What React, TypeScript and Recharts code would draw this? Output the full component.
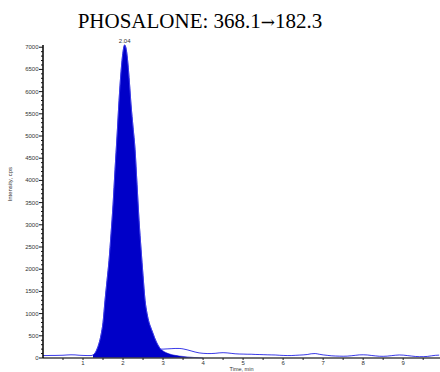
import { ComposedChart, Area, Line, XAxis, YAxis } from "recharts";

// retention time (min) and detector response (cps)
const times = [
  0.0, 0.1, 0.2, 0.3, 0.4, 0.5, 0.6, 0.7, 0.8, 0.9, 1.0, 1.1,
  1.2, 1.25, 1.3, 1.35, 1.4, 1.45, 1.5, 1.55, 1.6, 1.65, 1.7, 1.75, 1.8, 1.85, 1.9, 1.95,
  2.0, 2.04, 2.08, 2.12, 2.16, 2.2, 2.25, 2.3, 2.35, 2.4, 2.45, 2.5, 2.55, 2.6, 2.65,
  2.7, 2.75, 2.8, 2.85, 2.9, 2.95, 3.0,
  3.1, 3.2, 3.3, 3.4, 3.5, 3.6, 3.7, 3.8, 3.9, 4.0,
  4.1, 4.2, 4.3, 4.4, 4.5, 4.6, 4.7, 4.8, 4.9, 5.0,
  5.1, 5.2, 5.3, 5.4, 5.5, 5.6, 5.7, 5.8, 5.9, 6.0,
  6.1, 6.2, 6.3, 6.4, 6.5, 6.6, 6.7, 6.8, 6.9, 7.0,
  7.1, 7.2, 7.3, 7.4, 7.5, 7.6, 7.7, 7.8, 7.9, 8.0,
  8.1, 8.2, 8.3, 8.4, 8.5, 8.6, 8.7, 8.8, 8.9, 9.0,
  9.1, 9.2, 9.3, 9.4, 9.5, 9.6, 9.7, 9.8, 9.9,
];

const signal = [
  55, 55, 58, 58, 60, 62, 68, 72, 70, 62, 58, 55,
  55, 70, 110, 200, 330, 520, 800, 1300, 1750, 2200, 2800, 3450, 4250, 5000, 5800, 6450,
  6900, 7050, 6950, 6650, 6200, 5700, 5200, 4700, 3900, 3100, 2450, 1850, 1300, 1000, 800,
  670, 550, 430, 330, 250, 200, 200,
  205, 210, 215, 215, 205, 185, 160, 135, 115, 105,
  100, 100, 105, 115, 120, 115, 105, 95, 90, 88,
  85, 85, 80, 78, 75, 72, 70, 68, 62, 58,
  55, 55, 60, 65, 70, 78, 95, 100, 85, 70,
  60, 50, 45, 42, 40, 42, 50, 60, 70, 72,
  68, 58, 48, 40, 38, 42, 52, 62, 68, 65,
  55, 45, 35, 30, 30, 35, 48, 60, 65,
];

// integrated peak area (null outside the integration window)
const integrated = [
  null, null, null, null, null, null, null, null, null, null, null, null,
  null, 70, 110, 200, 330, 520, 800, 1300, 1750, 2200, 2800, 3450, 4250, 5000, 5800, 6450,
  6900, 7050, 6950, 6650, 6200, 5700, 5200, 4700, 3900, 3100, 2450, 1850, 1300, 1000, 800,
  670, 550, 430, 330, 250, 190, 160,
  110, 80, 60, 45, 35, 25, 18, 10, 5, 0,
  null, null, null, null, null, null, null, null, null, null,
  null, null, null, null, null, null, null, null, null, null,
  null, null, null, null, null, null, null, null, null, null,
  null, null, null, null, null, null, null, null, null, null,
  null, null, null, null, null, null, null, null, null, null,
  null, null, null, null, null, null, null, null, null,
];

const yLabelTicks = [0, 500, 1000, 1500, 2000, 2500, 3000, 3500, 4000, 4500, 5000, 5500, 6000, 6500, 7000];
const xLabelTicks = [1, 2, 3, 4, 5, 6, 7, 8, 9];

const yTicks: number[] = [];
yLabelTicks.forEach((v, i) => {
  yTicks.push(v);
  if (i < yLabelTicks.length - 1) for (let k = 1; k < 5; k++) yTicks.push(v + k * 100);
});
const xTicks: number[] = [];
xLabelTicks.forEach((v) => {
  xTicks.push(v - 0.5, v);
});
xTicks.push(9.5);

const data = times.map((t, i) => ({ t, signal: signal[i], area: integrated[i] }));
const peakIndex = signal.indexOf(Math.max(...signal));

const tickFont = { fontFamily: "Liberation Sans, Arial, sans-serif", fontSize: 6, fill: "#333" };

const YTick = ({ x, y, payload }: any) => {
  const major = yLabelTicks.includes(payload.value);
  return (
    <g>
      <line x1={x} x2={x - (major ? 4 : 2)} y1={y} y2={y} stroke="#111" strokeWidth={1} />
      {major && (
        <text x={x - 4.5} y={y} dy={2} textAnchor="end" {...tickFont}>
          {payload.value}
        </text>
      )}
    </g>
  );
};

const XTick = ({ x, y, payload }: any) => {
  const major = xLabelTicks.includes(payload.value);
  return (
    <g>
      <line x1={x} x2={x} y1={y} y2={y + 2} stroke="#222" strokeWidth={1} />
      {major && (
        <text x={x} y={y + 7} textAnchor="middle" {...tickFont}>
          {payload.value}
        </text>
      )}
    </g>
  );
};

const PeakLabel = ({ x, y, index }: any) =>
  index === peakIndex ? (
    <text x={x} y={y - 2} textAnchor="middle" {...tickFont}>
      {times[peakIndex].toFixed(2)}
    </text>
  ) : null;

export default function App() {
  return (
    <div style={{ position: "absolute", left: 0, top: 0, width: 440, height: 372, background: "#fff" }}>
      <div
        style={{
          position: "absolute",
          top: 11,
          left: 0,
          width: 400,
          textAlign: "center",
          fontFamily: "Liberation Serif, Times New Roman, serif",
          fontSize: 21,
          lineHeight: "21px",
          color: "#000",
        }}
      >
        PHOSALONE: 368.1<span style={{ fontFamily: "DejaVu Serif, serif", fontSize: 17 }}>→</span>182.3
      </div>
      <ComposedChart width={440} height={372} data={data} margin={{ top: 45, right: 0, bottom: 0, left: 0 }}>
        <XAxis
          dataKey="t"
          type="number"
          domain={[0, 9.92]}
          ticks={xTicks}
          interval={0}
          tickSize={0}
          tickMargin={0}
          tick={<XTick />}
          height={14}
          axisLine={{ stroke: "#444", strokeWidth: 1.5 }}
          tickLine={false}
          label={{ value: "Time, min", position: "insideBottom", offset: 1, style: { ...tickFont, fontSize: 5.5 } }}
        />
        <YAxis
          type="number"
          domain={[0, 7050]}
          ticks={yTicks}
          interval={0}
          tickSize={0}
          tickMargin={0}
          tick={<YTick />}
          width={43}
          axisLine={{ stroke: "#000", strokeWidth: 1.5 }}
          tickLine={false}
          label={{ value: "Intensity, cps", angle: -90, position: "insideLeft", offset: 10, style: tickFont }}
        />
        <Area
          dataKey="area"
          type="monotone"
          fill="#0000c8"
          fillOpacity={1}
          stroke="#0000c8"
          strokeWidth={0.5}
          isAnimationActive={false}
          label={<PeakLabel />}
        />
        <Line
          dataKey="signal"
          type="monotone"
          stroke="#3a3ae8"
          strokeWidth={1}
          dot={false}
          isAnimationActive={false}
        />
      </ComposedChart>
    </div>
  );
}
